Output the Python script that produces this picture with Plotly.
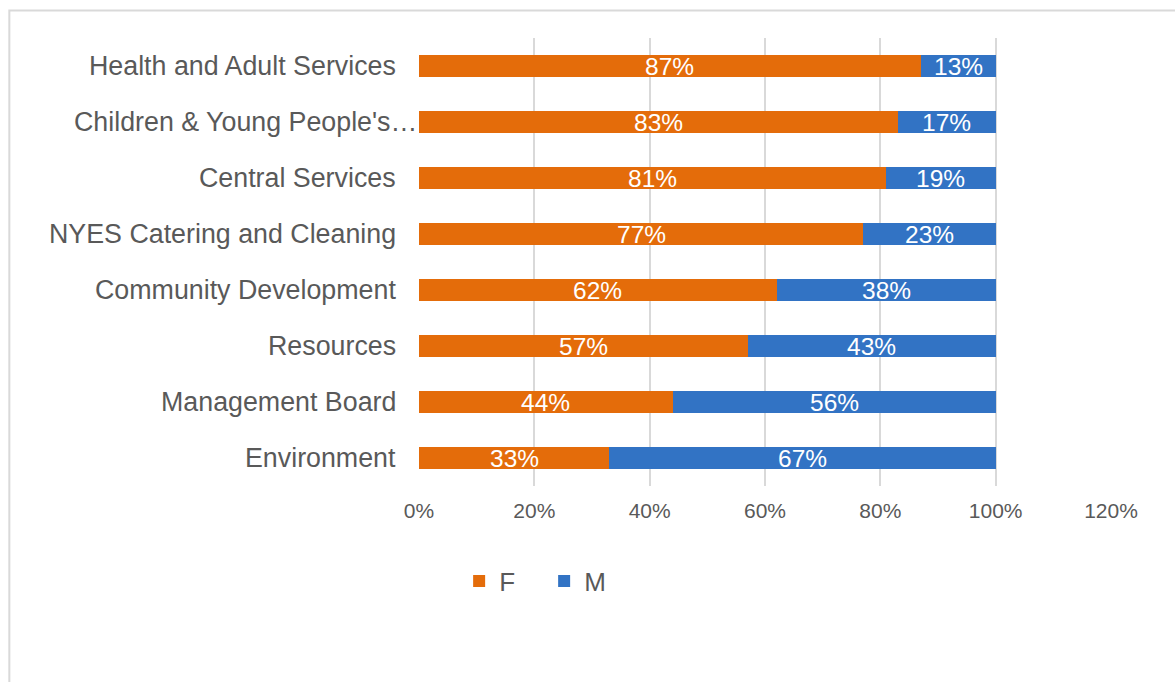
import plotly.graph_objects as go

# Workforce gender split by directorate (share of headcount)
directorates = [
    "Environment",
    "Management Board",
    "Resources",
    "Community Development",
    "NYES Catering and Cleaning",
    "Central Services",
    "Children & Young People's…",
    "Health and Adult Services",
]
female = [0.33, 0.44, 0.57, 0.62, 0.77, 0.81, 0.83, 0.87]
male = [0.67, 0.56, 0.43, 0.38, 0.23, 0.19, 0.17, 0.13]

x_ticks = [0, 0.2, 0.4, 0.6, 0.8, 1.0, 1.2]

ORANGE = "#E46C0A"
BLUE = "#3273C4"
GREY_TEXT = "#595959"
GRID = "#D9D9D9"
FONT = "Liberation Sans, Arial, sans-serif"

fig = go.Figure()
fig.add_trace(go.Bar(
    y=directorates, x=female, name="F", orientation="h",
    marker=dict(color=ORANGE, line=dict(width=0)), textposition="none",
))
fig.add_trace(go.Bar(
    y=directorates, x=male, name="M", orientation="h",
    marker=dict(color=BLUE, line=dict(width=0)), textposition="none",
))

annotations = []
# Segment value labels, centred in each stacked segment
for cat, f, m in zip(directorates, female, male):
    for xc, v in ((f / 2, f), (f + m / 2, m)):
        annotations.append(dict(
            x=xc, y=cat, xref="x", yref="y", text=f"{round(v * 100)}%",
            showarrow=False, font=dict(family=FONT, size=24.5, color="white"),
            xanchor="center", yanchor="middle",
        ))

# Category labels, right-aligned against the axis; a truncated name
# lets its ellipsis hang past the right edge of the label column
for cat in directorates:
    hang = 21 if cat.endswith("…") else 0
    annotations.append(dict(
        x=0, y=cat, xref="x", yref="y", text=cat, showarrow=False,
        xanchor="right", yanchor="middle", xshift=-21 + hang,
        font=dict(family=FONT, size=26.8, color=GREY_TEXT),
    ))

fig.update_layout(
    width=1175, height=682,
    barmode="stack", bargap=0.6,
    paper_bgcolor="white", plot_bgcolor="white",
    margin=dict(l=419, r=63.5, t=38, b=196),
    font=dict(family=FONT, color=GREY_TEXT),
    annotations=annotations,
    showlegend=True,
    legend=dict(
        orientation="h", x=0.058, y=-0.212, xanchor="left", yanchor="middle",
        font=dict(family=FONT, size=26, color=GREY_TEXT),
        entrywidth=40, entrywidthmode="pixels", itemwidth=30,
        traceorder="normal",
    ),
    shapes=[
        # chart frame (its top and left edges fall inside the page)
        dict(type="rect", xref="paper", yref="paper",
             x0=-0.592, x1=1.2, y0=-0.6, y1=1.0614,
             line=dict(color=GRID, width=2), layer="below"),
    ],
)
fig.update_xaxes(
    range=[0, 1.2], tickvals=x_ticks, tickformat=".0%",
    showgrid=True, gridcolor=GRID, gridwidth=1.5,
    zeroline=False, showline=False,
    tickfont=dict(family=FONT, size=21, color=GREY_TEXT),
    ticklabelstandoff=10, fixedrange=True,
)
fig.update_yaxes(
    showgrid=False, zeroline=False, showline=False,
    showticklabels=False, fixedrange=True,
)

fig.write_html("out.html")
